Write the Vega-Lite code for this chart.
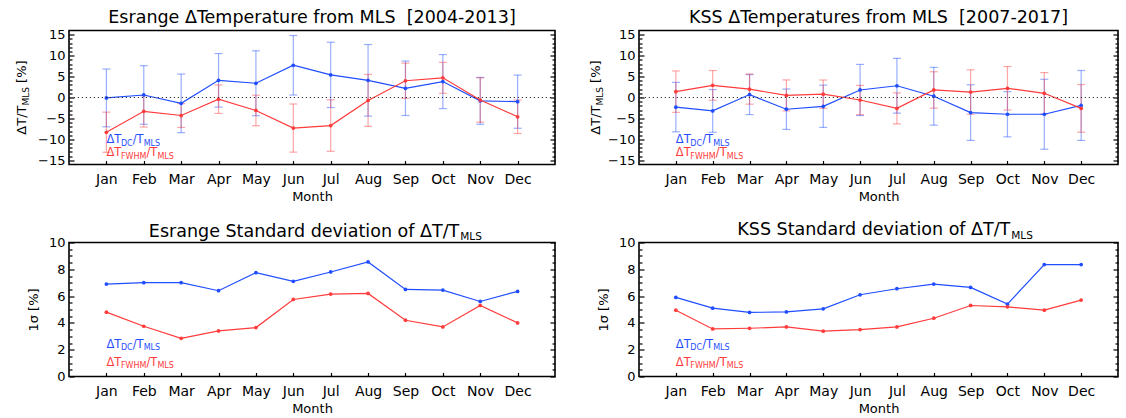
{
  "$schema": "https://vega.github.io/schema/vega-lite/v6.json",
  "autosize": {"type": "pad"},
  "padding": {"left": 15, "top": 7.5, "right": 0, "bottom": 0},
  "config": {
    "font": "DejaVu Sans",
    "view": {"stroke": "black", "strokeWidth": 1.6},
    "axis": {"grid": false, "labelColor": "black", "titleColor": "black", "tickColor": "black", "labelFont": "DejaVu Sans", "titleFont": "DejaVu Sans", "titleFontWeight": "normal", "tickWidth": 1.2},
    "title": {"fontSize": 17.5, "fontWeight": "normal", "font": "DejaVu Sans", "color": "black", "anchor": "middle", "baseline": "alphabetic", "offset": 2.5},
    "text": {"font": "DejaVu Sans"}
  },
  "datasets": {
    "stats": [
      {"station": "Esrange", "series": "DC", "month": "Jan", "m": 1, "mean": -0.1, "sd": 6.9},
      {"station": "Esrange", "series": "DC", "month": "Feb", "m": 2, "mean": 0.6, "sd": 7.0},
      {"station": "Esrange", "series": "DC", "month": "Mar", "m": 3, "mean": -1.4, "sd": 7.0},
      {"station": "Esrange", "series": "DC", "month": "Apr", "m": 4, "mean": 4.1, "sd": 6.4},
      {"station": "Esrange", "series": "DC", "month": "May", "m": 5, "mean": 3.4, "sd": 7.75},
      {"station": "Esrange", "series": "DC", "month": "Jun", "m": 6, "mean": 7.7, "sd": 7.1},
      {"station": "Esrange", "series": "DC", "month": "Jul", "m": 7, "mean": 5.4, "sd": 7.8},
      {"station": "Esrange", "series": "DC", "month": "Aug", "m": 8, "mean": 4.1, "sd": 8.55},
      {"station": "Esrange", "series": "DC", "month": "Sep", "m": 9, "mean": 2.2, "sd": 6.5},
      {"station": "Esrange", "series": "DC", "month": "Oct", "m": 10, "mean": 3.8, "sd": 6.45},
      {"station": "Esrange", "series": "DC", "month": "Nov", "m": 11, "mean": -0.8, "sd": 5.6},
      {"station": "Esrange", "series": "DC", "month": "Dec", "m": 12, "mean": -1.0, "sd": 6.35},
      {"station": "Esrange", "series": "FWHM", "month": "Jan", "m": 1, "mean": -8.3, "sd": 4.8},
      {"station": "Esrange", "series": "FWHM", "month": "Feb", "m": 2, "mean": -3.3, "sd": 3.75},
      {"station": "Esrange", "series": "FWHM", "month": "Mar", "m": 3, "mean": -4.3, "sd": 2.85},
      {"station": "Esrange", "series": "FWHM", "month": "Apr", "m": 4, "mean": -0.4, "sd": 3.4},
      {"station": "Esrange", "series": "FWHM", "month": "May", "m": 5, "mean": -3.1, "sd": 3.65},
      {"station": "Esrange", "series": "FWHM", "month": "Jun", "m": 6, "mean": -7.3, "sd": 5.75},
      {"station": "Esrange", "series": "FWHM", "month": "Jul", "m": 7, "mean": -6.7, "sd": 6.15},
      {"station": "Esrange", "series": "FWHM", "month": "Aug", "m": 8, "mean": -0.7, "sd": 6.2},
      {"station": "Esrange", "series": "FWHM", "month": "Sep", "m": 9, "mean": 4.0, "sd": 4.2},
      {"station": "Esrange", "series": "FWHM", "month": "Oct", "m": 10, "mean": 4.7, "sd": 3.7},
      {"station": "Esrange", "series": "FWHM", "month": "Nov", "m": 11, "mean": -0.6, "sd": 5.3},
      {"station": "Esrange", "series": "FWHM", "month": "Dec", "m": 12, "mean": -4.6, "sd": 4.0},
      {"station": "KSS", "series": "DC", "month": "Jan", "m": 1, "mean": -2.3, "sd": 5.9},
      {"station": "KSS", "series": "DC", "month": "Feb", "m": 2, "mean": -3.2, "sd": 5.1},
      {"station": "KSS", "series": "DC", "month": "Mar", "m": 3, "mean": 0.7, "sd": 4.78},
      {"station": "KSS", "series": "DC", "month": "Apr", "m": 4, "mean": -2.8, "sd": 4.82},
      {"station": "KSS", "series": "DC", "month": "May", "m": 5, "mean": -2.1, "sd": 5.05},
      {"station": "KSS", "series": "DC", "month": "Jun", "m": 6, "mean": 1.8, "sd": 6.1},
      {"station": "KSS", "series": "DC", "month": "Jul", "m": 7, "mean": 2.8, "sd": 6.55},
      {"station": "KSS", "series": "DC", "month": "Aug", "m": 8, "mean": 0.3, "sd": 6.9},
      {"station": "KSS", "series": "DC", "month": "Sep", "m": 9, "mean": -3.6, "sd": 6.65},
      {"station": "KSS", "series": "DC", "month": "Oct", "m": 10, "mean": -4.0, "sd": 5.4},
      {"station": "KSS", "series": "DC", "month": "Nov", "m": 11, "mean": -4.0, "sd": 8.35},
      {"station": "KSS", "series": "DC", "month": "Dec", "m": 12, "mean": -1.9, "sd": 8.35},
      {"station": "KSS", "series": "FWHM", "month": "Jan", "m": 1, "mean": 1.4, "sd": 4.95},
      {"station": "KSS", "series": "FWHM", "month": "Feb", "m": 2, "mean": 2.9, "sd": 3.55},
      {"station": "KSS", "series": "FWHM", "month": "Mar", "m": 3, "mean": 2.0, "sd": 3.6},
      {"station": "KSS", "series": "FWHM", "month": "Apr", "m": 4, "mean": 0.5, "sd": 3.7},
      {"station": "KSS", "series": "FWHM", "month": "May", "m": 5, "mean": 0.8, "sd": 3.38},
      {"station": "KSS", "series": "FWHM", "month": "Jun", "m": 6, "mean": -0.6, "sd": 3.5},
      {"station": "KSS", "series": "FWHM", "month": "Jul", "m": 7, "mean": -2.6, "sd": 3.7},
      {"station": "KSS", "series": "FWHM", "month": "Aug", "m": 8, "mean": 1.8, "sd": 4.35},
      {"station": "KSS", "series": "FWHM", "month": "Sep", "m": 9, "mean": 1.3, "sd": 5.3},
      {"station": "KSS", "series": "FWHM", "month": "Oct", "m": 10, "mean": 2.2, "sd": 5.2},
      {"station": "KSS", "series": "FWHM", "month": "Nov", "m": 11, "mean": 1.0, "sd": 4.95},
      {"station": "KSS", "series": "FWHM", "month": "Dec", "m": 12, "mean": -2.6, "sd": 5.7}
    ]
  },
  "columns": 2,
  "spacing": {"column": 84, "row": 78},
  "bounds": "flush",
  "align": "each",
  "concat": [
    {
      "width": 486, "height": 134,
      "title": {"text": "Esrange ΔTemperature from MLS \u00a0[2004-2013]"},
      "data": {"name": "stats"},
      "transform": [{"filter": "datum.station === 'Esrange'"}],
      "resolve": {"axis": {"y": "independent"}},
      "layer": [
        {"mark": {"type": "errorbar", "ticks": {"opacity": 0.45, "size": 8}, "rule": {"opacity": 0.45}, "thickness": 1.2},
         "encoding": {
           "x": {"field": "m", "type": "quantitative", "scale": {"domain": [0, 13], "nice": false, "zero": false}, "axis": {"values": [1,2,3,4,5,6,7,8,9,10,11,12], "labelExpr": "['Jan','Feb','Mar','Apr','May','Jun','Jul','Aug','Sep','Oct','Nov','Dec'][datum.value-1]", "title": "Month", "tickSize": -4, "domain": false, "labelPadding": 12, "labelFontSize": 14, "titleFontSize": 13, "titlePadding": 4, "labelAngle": 0, "labelFlush": false}},
           "y": {"field": "mean", "type": "quantitative", "scale": {"domain": [-16, 16], "nice": false, "zero": false}, "axis": {"orient": "left", "values": [-15,-10,-5,0,5,10,15], "ticks": false, "domain": false, "labelPadding": 4, "labelFontSize": 13, "title": null}},
           "yError": {"field": "sd"},
           "color": {"field": "series", "type": "nominal", "scale": {"domain": ["DC", "FWHM"], "range": ["#1f4dff", "#ff3b3b"]}, "legend": null}
         }},
        {"mark": {"type": "line", "strokeWidth": 1.2},
         "encoding": {
           "x": {"field": "m", "type": "quantitative", "scale": {"domain": [0, 13], "nice": false, "zero": false}, "axis": {"values": [1,2,3,4,5,6,7,8,9,10,11,12], "labelExpr": "['Jan','Feb','Mar','Apr','May','Jun','Jul','Aug','Sep','Oct','Nov','Dec'][datum.value-1]", "title": "Month", "tickSize": -4, "domain": false, "labelPadding": 12, "labelFontSize": 14, "titleFontSize": 13, "titlePadding": 4, "labelAngle": 0, "labelFlush": false}},
           "y": {"field": "mean", "type": "quantitative", "scale": {"domain": [-16, 16], "nice": false, "zero": false}, "axis": {"orient": "left", "values": [-15,-10,-5,0,5,10,15], "labels": false, "domain": false, "tickSize": -5, "title": null}},
           "color": {"field": "series", "type": "nominal", "scale": {"domain": ["DC", "FWHM"], "range": ["#1f4dff", "#ff3b3b"]}, "legend": null}
         }},
        {"mark": {"type": "point", "filled": true, "size": 14, "opacity": 1},
         "encoding": {
           "x": {"field": "m", "type": "quantitative", "scale": {"domain": [0, 13], "nice": false, "zero": false}, "axis": {"values": [1,2,3,4,5,6,7,8,9,10,11,12], "labelExpr": "['Jan','Feb','Mar','Apr','May','Jun','Jul','Aug','Sep','Oct','Nov','Dec'][datum.value-1]", "title": "Month", "tickSize": -4, "domain": false, "labelPadding": 12, "labelFontSize": 14, "titleFontSize": 13, "titlePadding": 4, "labelAngle": 0, "labelFlush": false}},
           "y": {"field": "mean", "type": "quantitative", "scale": {"domain": [-16, 16], "nice": false, "zero": false}, "axis": {"orient": "left", "values": [-14,-13,-12,-11,-9,-8,-7,-6,-4,-3,-2,-1,1,2,3,4,6,7,8,9,11,12,13,14], "labels": false, "domain": false, "tickSize": -3, "title": null}},
           "color": {"field": "series", "type": "nominal", "scale": {"domain": ["DC", "FWHM"], "range": ["#1f4dff", "#ff3b3b"]}, "legend": null}
         }},
        {"data": {"values": [{"z": 0}]},
         "mark": {"type": "rule", "strokeDash": [1.2, 2.8], "color": "#333333", "strokeWidth": 1},
         "encoding": {
           "y": {"field": "z", "type": "quantitative", "scale": {"domain": [-16, 16], "nice": false, "zero": false}, "axis": {"orient": "right", "values": [-15,-10,-5,0,5,10,15], "labels": false, "domain": false, "tickSize": -5, "title": null}}
         }},
        {"data": {"values": [{}]},
         "mark": {"type": "text", "text": "ΔT/T", "fontSize": 13, "angle": 270, "align": "left", "baseline": "alphabetic", "dx": -37.2, "dy": -80.3, "color": "black"},
         "encoding": {
           "x": {"datum": 1, "type": "quantitative", "scale": {"domain": [0, 13], "nice": false, "zero": false}, "axis": {"values": [1,2,3,4,5,6,7,8,9,10,11,12], "labelExpr": "['Jan','Feb','Mar','Apr','May','Jun','Jul','Aug','Sep','Oct','Nov','Dec'][datum.value-1]", "title": "Month", "tickSize": -4, "domain": false, "labelPadding": 12, "labelFontSize": 14, "titleFontSize": 13, "titlePadding": 4, "labelAngle": 0, "labelFlush": false}},
           "y": {"datum": 0, "type": "quantitative", "scale": {"domain": [-16, 16], "nice": false, "zero": false}, "axis": {"orient": "right", "values": [-14,-13,-12,-11,-9,-8,-7,-6,-4,-3,-2,-1,1,2,3,4,6,7,8,9,11,12,13,14], "labels": false, "domain": false, "tickSize": -3, "title": null}}
         }},
        {"data": {"values": [{}]},
         "mark": {"type": "text", "text": "MLS", "fontSize": 9, "angle": 270, "align": "left", "baseline": "alphabetic", "dx": -8.0, "dy": -77.3, "color": "black"},
         "encoding": {"x": {"datum": 1, "type": "quantitative"}, "y": {"datum": 0, "type": "quantitative", "axis": null}}},
        {"data": {"values": [{}]},
         "mark": {"type": "text", "text": "[%]", "fontSize": 13, "angle": 270, "align": "left", "baseline": "alphabetic", "dx": 14.6, "dy": -80.3, "color": "black"},
         "encoding": {"x": {"datum": 1, "type": "quantitative"}, "y": {"datum": 0, "type": "quantitative", "axis": null}}},
        {"data": {"values": [{}]}, "mark": {"type": "text", "text": "ΔT", "fontSize": 11.5, "align": "left", "baseline": "alphabetic", "color": "#1f4dff"},
         "encoding": {"x": {"datum": 1, "type": "quantitative"}, "y": {"datum": -10.9, "type": "quantitative", "axis": null}}},
        {"data": {"values": [{}]}, "mark": {"type": "text", "text": "DC", "fontSize": 8, "align": "left", "baseline": "alphabetic", "dx": 14.5, "dy": 2.5, "color": "#1f4dff"},
         "encoding": {"x": {"datum": 1, "type": "quantitative"}, "y": {"datum": -10.9, "type": "quantitative", "axis": null}}},
        {"data": {"values": [{}]}, "mark": {"type": "text", "text": "/T", "fontSize": 11.5, "align": "left", "baseline": "alphabetic", "dx": 26.3, "color": "#1f4dff"},
         "encoding": {"x": {"datum": 1, "type": "quantitative"}, "y": {"datum": -10.9, "type": "quantitative", "axis": null}}},
        {"data": {"values": [{}]}, "mark": {"type": "text", "text": "MLS", "fontSize": 8, "align": "left", "baseline": "alphabetic", "dx": 37.3, "dy": 2.5, "color": "#1f4dff"},
         "encoding": {"x": {"datum": 1, "type": "quantitative"}, "y": {"datum": -10.9, "type": "quantitative", "axis": null}}},
        {"data": {"values": [{}]}, "mark": {"type": "text", "text": "ΔT", "fontSize": 11.5, "align": "left", "baseline": "alphabetic", "color": "#ff3b3b"},
         "encoding": {"x": {"datum": 1, "type": "quantitative"}, "y": {"datum": -14.0, "type": "quantitative", "axis": null}}},
        {"data": {"values": [{}]}, "mark": {"type": "text", "text": "FWHM", "fontSize": 8, "align": "left", "baseline": "alphabetic", "dx": 14.5, "dy": 2.5, "color": "#ff3b3b"},
         "encoding": {"x": {"datum": 1, "type": "quantitative"}, "y": {"datum": -14.0, "type": "quantitative", "axis": null}}},
        {"data": {"values": [{}]}, "mark": {"type": "text", "text": "/T", "fontSize": 11.5, "align": "left", "baseline": "alphabetic", "dx": 40.0, "color": "#ff3b3b"},
         "encoding": {"x": {"datum": 1, "type": "quantitative"}, "y": {"datum": -14.0, "type": "quantitative", "axis": null}}},
        {"data": {"values": [{}]}, "mark": {"type": "text", "text": "MLS", "fontSize": 8, "align": "left", "baseline": "alphabetic", "dx": 51.0, "dy": 2.5, "color": "#ff3b3b"},
         "encoding": {"x": {"datum": 1, "type": "quantitative"}, "y": {"datum": -14.0, "type": "quantitative", "axis": null}}}
      ]
    },
    {
      "width": 479, "height": 134,
      "title": {"text": "KSS ΔTemperatures from MLS \u00a0[2007-2017]"},
      "data": {"name": "stats"},
      "transform": [{"filter": "datum.station === 'KSS'"}],
      "resolve": {"axis": {"y": "independent"}},
      "layer": [
        {"mark": {"type": "errorbar", "ticks": {"opacity": 0.45, "size": 8}, "rule": {"opacity": 0.45}, "thickness": 1.2},
         "encoding": {
           "x": {"field": "m", "type": "quantitative", "scale": {"domain": [0, 13], "nice": false, "zero": false}, "axis": {"values": [1,2,3,4,5,6,7,8,9,10,11,12], "labelExpr": "['Jan','Feb','Mar','Apr','May','Jun','Jul','Aug','Sep','Oct','Nov','Dec'][datum.value-1]", "title": "Month", "tickSize": -4, "domain": false, "labelPadding": 12, "labelFontSize": 14, "titleFontSize": 13, "titlePadding": 4, "labelAngle": 0, "labelFlush": false}},
           "y": {"field": "mean", "type": "quantitative", "scale": {"domain": [-16, 16], "nice": false, "zero": false}, "axis": {"orient": "left", "values": [-15,-10,-5,0,5,10,15], "ticks": false, "domain": false, "labelPadding": 4, "labelFontSize": 13, "title": null}},
           "yError": {"field": "sd"},
           "color": {"field": "series", "type": "nominal", "scale": {"domain": ["DC", "FWHM"], "range": ["#1f4dff", "#ff3b3b"]}, "legend": null}
         }},
        {"mark": {"type": "line", "strokeWidth": 1.2},
         "encoding": {
           "x": {"field": "m", "type": "quantitative", "scale": {"domain": [0, 13], "nice": false, "zero": false}, "axis": {"values": [1,2,3,4,5,6,7,8,9,10,11,12], "labelExpr": "['Jan','Feb','Mar','Apr','May','Jun','Jul','Aug','Sep','Oct','Nov','Dec'][datum.value-1]", "title": "Month", "tickSize": -4, "domain": false, "labelPadding": 12, "labelFontSize": 14, "titleFontSize": 13, "titlePadding": 4, "labelAngle": 0, "labelFlush": false}},
           "y": {"field": "mean", "type": "quantitative", "scale": {"domain": [-16, 16], "nice": false, "zero": false}, "axis": {"orient": "left", "values": [-15,-10,-5,0,5,10,15], "labels": false, "domain": false, "tickSize": -5, "title": null}},
           "color": {"field": "series", "type": "nominal", "scale": {"domain": ["DC", "FWHM"], "range": ["#1f4dff", "#ff3b3b"]}, "legend": null}
         }},
        {"mark": {"type": "point", "filled": true, "size": 14, "opacity": 1},
         "encoding": {
           "x": {"field": "m", "type": "quantitative", "scale": {"domain": [0, 13], "nice": false, "zero": false}, "axis": {"values": [1,2,3,4,5,6,7,8,9,10,11,12], "labelExpr": "['Jan','Feb','Mar','Apr','May','Jun','Jul','Aug','Sep','Oct','Nov','Dec'][datum.value-1]", "title": "Month", "tickSize": -4, "domain": false, "labelPadding": 12, "labelFontSize": 14, "titleFontSize": 13, "titlePadding": 4, "labelAngle": 0, "labelFlush": false}},
           "y": {"field": "mean", "type": "quantitative", "scale": {"domain": [-16, 16], "nice": false, "zero": false}, "axis": {"orient": "left", "values": [-14,-13,-12,-11,-9,-8,-7,-6,-4,-3,-2,-1,1,2,3,4,6,7,8,9,11,12,13,14], "labels": false, "domain": false, "tickSize": -3, "title": null}},
           "color": {"field": "series", "type": "nominal", "scale": {"domain": ["DC", "FWHM"], "range": ["#1f4dff", "#ff3b3b"]}, "legend": null}
         }},
        {"data": {"values": [{"z": 0}]},
         "mark": {"type": "rule", "strokeDash": [1.2, 2.8], "color": "#333333", "strokeWidth": 1},
         "encoding": {
           "y": {"field": "z", "type": "quantitative", "scale": {"domain": [-16, 16], "nice": false, "zero": false}, "axis": {"orient": "right", "values": [-15,-10,-5,0,5,10,15], "labels": false, "domain": false, "tickSize": -5, "title": null}}
         }},
        {"data": {"values": [{}]},
         "mark": {"type": "text", "text": "ΔT/T", "fontSize": 13, "angle": 270, "align": "left", "baseline": "alphabetic", "dx": -37.2, "dy": -76.2, "color": "black"},
         "encoding": {
           "x": {"datum": 1, "type": "quantitative", "scale": {"domain": [0, 13], "nice": false, "zero": false}, "axis": {"values": [1,2,3,4,5,6,7,8,9,10,11,12], "labelExpr": "['Jan','Feb','Mar','Apr','May','Jun','Jul','Aug','Sep','Oct','Nov','Dec'][datum.value-1]", "title": "Month", "tickSize": -4, "domain": false, "labelPadding": 12, "labelFontSize": 14, "titleFontSize": 13, "titlePadding": 4, "labelAngle": 0, "labelFlush": false}},
           "y": {"datum": 0, "type": "quantitative", "scale": {"domain": [-16, 16], "nice": false, "zero": false}, "axis": {"orient": "right", "values": [-14,-13,-12,-11,-9,-8,-7,-6,-4,-3,-2,-1,1,2,3,4,6,7,8,9,11,12,13,14], "labels": false, "domain": false, "tickSize": -3, "title": null}}
         }},
        {"data": {"values": [{}]},
         "mark": {"type": "text", "text": "MLS", "fontSize": 9, "angle": 270, "align": "left", "baseline": "alphabetic", "dx": -8.0, "dy": -73.2, "color": "black"},
         "encoding": {"x": {"datum": 1, "type": "quantitative"}, "y": {"datum": 0, "type": "quantitative", "axis": null}}},
        {"data": {"values": [{}]},
         "mark": {"type": "text", "text": "[%]", "fontSize": 13, "angle": 270, "align": "left", "baseline": "alphabetic", "dx": 14.6, "dy": -76.2, "color": "black"},
         "encoding": {"x": {"datum": 1, "type": "quantitative"}, "y": {"datum": 0, "type": "quantitative", "axis": null}}},
        {"data": {"values": [{}]}, "mark": {"type": "text", "text": "ΔT", "fontSize": 11.5, "align": "left", "baseline": "alphabetic", "color": "#1f4dff"},
         "encoding": {"x": {"datum": 1, "type": "quantitative"}, "y": {"datum": -10.9, "type": "quantitative", "axis": null}}},
        {"data": {"values": [{}]}, "mark": {"type": "text", "text": "DC", "fontSize": 8, "align": "left", "baseline": "alphabetic", "dx": 14.5, "dy": 2.5, "color": "#1f4dff"},
         "encoding": {"x": {"datum": 1, "type": "quantitative"}, "y": {"datum": -10.9, "type": "quantitative", "axis": null}}},
        {"data": {"values": [{}]}, "mark": {"type": "text", "text": "/T", "fontSize": 11.5, "align": "left", "baseline": "alphabetic", "dx": 26.3, "color": "#1f4dff"},
         "encoding": {"x": {"datum": 1, "type": "quantitative"}, "y": {"datum": -10.9, "type": "quantitative", "axis": null}}},
        {"data": {"values": [{}]}, "mark": {"type": "text", "text": "MLS", "fontSize": 8, "align": "left", "baseline": "alphabetic", "dx": 37.3, "dy": 2.5, "color": "#1f4dff"},
         "encoding": {"x": {"datum": 1, "type": "quantitative"}, "y": {"datum": -10.9, "type": "quantitative", "axis": null}}},
        {"data": {"values": [{}]}, "mark": {"type": "text", "text": "ΔT", "fontSize": 11.5, "align": "left", "baseline": "alphabetic", "color": "#ff3b3b"},
         "encoding": {"x": {"datum": 1, "type": "quantitative"}, "y": {"datum": -14.0, "type": "quantitative", "axis": null}}},
        {"data": {"values": [{}]}, "mark": {"type": "text", "text": "FWHM", "fontSize": 8, "align": "left", "baseline": "alphabetic", "dx": 14.5, "dy": 2.5, "color": "#ff3b3b"},
         "encoding": {"x": {"datum": 1, "type": "quantitative"}, "y": {"datum": -14.0, "type": "quantitative", "axis": null}}},
        {"data": {"values": [{}]}, "mark": {"type": "text", "text": "/T", "fontSize": 11.5, "align": "left", "baseline": "alphabetic", "dx": 40.0, "color": "#ff3b3b"},
         "encoding": {"x": {"datum": 1, "type": "quantitative"}, "y": {"datum": -14.0, "type": "quantitative", "axis": null}}},
        {"data": {"values": [{}]}, "mark": {"type": "text", "text": "MLS", "fontSize": 8, "align": "left", "baseline": "alphabetic", "dx": 51.0, "dy": 2.5, "color": "#ff3b3b"},
         "encoding": {"x": {"datum": 1, "type": "quantitative"}, "y": {"datum": -14.0, "type": "quantitative", "axis": null}}}
      ]
    },
    {
      "width": 486, "height": 134,
      "data": {"name": "stats"},
      "transform": [{"filter": "datum.station === 'Esrange'"}],
      "resolve": {"axis": {"y": "independent"}},
      "layer": [
        {"mark": {"type": "line", "strokeWidth": 1.2},
         "encoding": {
           "x": {"field": "m", "type": "quantitative", "scale": {"domain": [0, 13], "nice": false, "zero": false}, "axis": {"values": [1,2,3,4,5,6,7,8,9,10,11,12], "labelExpr": "['Jan','Feb','Mar','Apr','May','Jun','Jul','Aug','Sep','Oct','Nov','Dec'][datum.value-1]", "title": "Month", "tickSize": -4, "domain": false, "labelPadding": 12, "labelFontSize": 14, "titleFontSize": 13, "titlePadding": 4, "labelAngle": 0, "labelFlush": false}},
           "y": {"field": "sd", "type": "quantitative", "scale": {"domain": [0, 10], "nice": false, "zero": false}, "axis": {"orient": "left", "values": [0,2,4,6,8,10], "ticks": false, "domain": false, "labelPadding": 4, "labelFontSize": 13, "title": "1σ [%]", "titleFontSize": 13, "titlePadding": 8}},
           "color": {"field": "series", "type": "nominal", "scale": {"domain": ["DC", "FWHM"], "range": ["#1f4dff", "#ff3b3b"]}, "legend": null}
         }},
        {"mark": {"type": "point", "filled": true, "size": 14, "opacity": 1},
         "encoding": {
           "x": {"field": "m", "type": "quantitative", "scale": {"domain": [0, 13], "nice": false, "zero": false}, "axis": {"values": [1,2,3,4,5,6,7,8,9,10,11,12], "labelExpr": "['Jan','Feb','Mar','Apr','May','Jun','Jul','Aug','Sep','Oct','Nov','Dec'][datum.value-1]", "title": "Month", "tickSize": -4, "domain": false, "labelPadding": 12, "labelFontSize": 14, "titleFontSize": 13, "titlePadding": 4, "labelAngle": 0, "labelFlush": false}},
           "y": {"field": "sd", "type": "quantitative", "scale": {"domain": [0, 10], "nice": false, "zero": false}, "axis": {"orient": "left", "values": [0,2,4,6,8,10], "labels": false, "domain": false, "tickSize": -5, "title": null}},
           "color": {"field": "series", "type": "nominal", "scale": {"domain": ["DC", "FWHM"], "range": ["#1f4dff", "#ff3b3b"]}, "legend": null}
         }},
        {"data": {"values": [{}]},
         "mark": {"type": "text", "text": "Esrange Standard deviation of ΔT/T", "fontSize": 17.5, "align": "right", "baseline": "alphabetic", "dx": -21, "dy": -6, "color": "black"},
         "encoding": {
           "x": {"datum": 11, "type": "quantitative", "scale": {"domain": [0, 13], "nice": false, "zero": false}, "axis": {"values": [1,2,3,4,5,6,7,8,9,10,11,12], "labelExpr": "['Jan','Feb','Mar','Apr','May','Jun','Jul','Aug','Sep','Oct','Nov','Dec'][datum.value-1]", "title": "Month", "tickSize": -4, "domain": false, "labelPadding": 12, "labelFontSize": 14, "titleFontSize": 13, "titlePadding": 4, "labelAngle": 0, "labelFlush": false}},
           "y": {"datum": 10, "type": "quantitative", "scale": {"domain": [0, 10], "nice": false, "zero": false}, "axis": {"orient": "left", "values": [0.5,1,1.5,2.5,3,3.5,4.5,5,5.5,6.5,7,7.5,8.5,9,9.5], "labels": false, "domain": false, "tickSize": -3, "title": null}}
         }},
        {"data": {"values": [{}]},
         "mark": {"type": "text", "text": "MLS", "fontSize": 10.5, "align": "left", "baseline": "alphabetic", "dx": -20, "dy": -3, "color": "black"},
         "encoding": {
           "x": {"datum": 11, "type": "quantitative"},
           "y": {"datum": 10, "type": "quantitative", "axis": {"orient": "right", "values": [0,2,4,6,8,10], "labels": false, "domain": false, "tickSize": -5, "title": null}}
         }},
        {"data": {"values": [{}]}, "mark": {"type": "text", "text": "ΔT", "fontSize": 11.5, "align": "left", "baseline": "alphabetic", "color": "#1f4dff"},
         "encoding": {"x": {"datum": 1, "type": "quantitative"}, "y": {"datum": 2.15, "type": "quantitative", "axis": {"orient": "right", "values": [0.5,1,1.5,2.5,3,3.5,4.5,5,5.5,6.5,7,7.5,8.5,9,9.5], "labels": false, "domain": false, "tickSize": -3, "title": null}}}},
        {"data": {"values": [{}]}, "mark": {"type": "text", "text": "DC", "fontSize": 8, "align": "left", "baseline": "alphabetic", "dx": 14.5, "dy": 2.5, "color": "#1f4dff"},
         "encoding": {"x": {"datum": 1, "type": "quantitative"}, "y": {"datum": 2.15, "type": "quantitative", "axis": null}}},
        {"data": {"values": [{}]}, "mark": {"type": "text", "text": "/T", "fontSize": 11.5, "align": "left", "baseline": "alphabetic", "dx": 26.3, "color": "#1f4dff"},
         "encoding": {"x": {"datum": 1, "type": "quantitative"}, "y": {"datum": 2.15, "type": "quantitative", "axis": null}}},
        {"data": {"values": [{}]}, "mark": {"type": "text", "text": "MLS", "fontSize": 8, "align": "left", "baseline": "alphabetic", "dx": 37.3, "dy": 2.5, "color": "#1f4dff"},
         "encoding": {"x": {"datum": 1, "type": "quantitative"}, "y": {"datum": 2.15, "type": "quantitative", "axis": null}}},
        {"data": {"values": [{}]}, "mark": {"type": "text", "text": "ΔT", "fontSize": 11.5, "align": "left", "baseline": "alphabetic", "color": "#ff3b3b"},
         "encoding": {"x": {"datum": 1, "type": "quantitative"}, "y": {"datum": 0.8, "type": "quantitative", "axis": null}}},
        {"data": {"values": [{}]}, "mark": {"type": "text", "text": "FWHM", "fontSize": 8, "align": "left", "baseline": "alphabetic", "dx": 14.5, "dy": 2.5, "color": "#ff3b3b"},
         "encoding": {"x": {"datum": 1, "type": "quantitative"}, "y": {"datum": 0.8, "type": "quantitative", "axis": null}}},
        {"data": {"values": [{}]}, "mark": {"type": "text", "text": "/T", "fontSize": 11.5, "align": "left", "baseline": "alphabetic", "dx": 40.0, "color": "#ff3b3b"},
         "encoding": {"x": {"datum": 1, "type": "quantitative"}, "y": {"datum": 0.8, "type": "quantitative", "axis": null}}},
        {"data": {"values": [{}]}, "mark": {"type": "text", "text": "MLS", "fontSize": 8, "align": "left", "baseline": "alphabetic", "dx": 51.0, "dy": 2.5, "color": "#ff3b3b"},
         "encoding": {"x": {"datum": 1, "type": "quantitative"}, "y": {"datum": 0.8, "type": "quantitative", "axis": null}}}
      ]
    },
    {
      "width": 479, "height": 134,
      "data": {"name": "stats"},
      "transform": [{"filter": "datum.station === 'KSS'"}],
      "resolve": {"axis": {"y": "independent"}},
      "layer": [
        {"mark": {"type": "line", "strokeWidth": 1.2},
         "encoding": {
           "x": {"field": "m", "type": "quantitative", "scale": {"domain": [0, 13], "nice": false, "zero": false}, "axis": {"values": [1,2,3,4,5,6,7,8,9,10,11,12], "labelExpr": "['Jan','Feb','Mar','Apr','May','Jun','Jul','Aug','Sep','Oct','Nov','Dec'][datum.value-1]", "title": "Month", "tickSize": -4, "domain": false, "labelPadding": 12, "labelFontSize": 14, "titleFontSize": 13, "titlePadding": 4, "labelAngle": 0, "labelFlush": false}},
           "y": {"field": "sd", "type": "quantitative", "scale": {"domain": [0, 10], "nice": false, "zero": false}, "axis": {"orient": "left", "values": [0,2,4,6,8,10], "ticks": false, "domain": false, "labelPadding": 4, "labelFontSize": 13, "title": "1σ [%]", "titleFontSize": 13, "titlePadding": 8}},
           "color": {"field": "series", "type": "nominal", "scale": {"domain": ["DC", "FWHM"], "range": ["#1f4dff", "#ff3b3b"]}, "legend": null}
         }},
        {"mark": {"type": "point", "filled": true, "size": 14, "opacity": 1},
         "encoding": {
           "x": {"field": "m", "type": "quantitative", "scale": {"domain": [0, 13], "nice": false, "zero": false}, "axis": {"values": [1,2,3,4,5,6,7,8,9,10,11,12], "labelExpr": "['Jan','Feb','Mar','Apr','May','Jun','Jul','Aug','Sep','Oct','Nov','Dec'][datum.value-1]", "title": "Month", "tickSize": -4, "domain": false, "labelPadding": 12, "labelFontSize": 14, "titleFontSize": 13, "titlePadding": 4, "labelAngle": 0, "labelFlush": false}},
           "y": {"field": "sd", "type": "quantitative", "scale": {"domain": [0, 10], "nice": false, "zero": false}, "axis": {"orient": "left", "values": [0,2,4,6,8,10], "labels": false, "domain": false, "tickSize": -5, "title": null}},
           "color": {"field": "series", "type": "nominal", "scale": {"domain": ["DC", "FWHM"], "range": ["#1f4dff", "#ff3b3b"]}, "legend": null}
         }},
        {"data": {"values": [{}]},
         "mark": {"type": "text", "text": "KSS Standard deviation of ΔT/T", "fontSize": 17.5, "align": "right", "baseline": "alphabetic", "dx": -34, "dy": -7.5, "color": "black"},
         "encoding": {
           "x": {"datum": 11, "type": "quantitative", "scale": {"domain": [0, 13], "nice": false, "zero": false}, "axis": {"values": [1,2,3,4,5,6,7,8,9,10,11,12], "labelExpr": "['Jan','Feb','Mar','Apr','May','Jun','Jul','Aug','Sep','Oct','Nov','Dec'][datum.value-1]", "title": "Month", "tickSize": -4, "domain": false, "labelPadding": 12, "labelFontSize": 14, "titleFontSize": 13, "titlePadding": 4, "labelAngle": 0, "labelFlush": false}},
           "y": {"datum": 10, "type": "quantitative", "scale": {"domain": [0, 10], "nice": false, "zero": false}, "axis": {"orient": "left", "values": [0.5,1,1.5,2.5,3,3.5,4.5,5,5.5,6.5,7,7.5,8.5,9,9.5], "labels": false, "domain": false, "tickSize": -3, "title": null}}
         }},
        {"data": {"values": [{}]},
         "mark": {"type": "text", "text": "MLS", "fontSize": 10.5, "align": "left", "baseline": "alphabetic", "dx": -33, "dy": -4, "color": "black"},
         "encoding": {
           "x": {"datum": 11, "type": "quantitative"},
           "y": {"datum": 10, "type": "quantitative", "axis": {"orient": "right", "values": [0,2,4,6,8,10], "labels": false, "domain": false, "tickSize": -5, "title": null}}
         }},
        {"data": {"values": [{}]}, "mark": {"type": "text", "text": "ΔT", "fontSize": 11.5, "align": "left", "baseline": "alphabetic", "color": "#1f4dff"},
         "encoding": {"x": {"datum": 1, "type": "quantitative"}, "y": {"datum": 2.15, "type": "quantitative", "axis": {"orient": "right", "values": [0.5,1,1.5,2.5,3,3.5,4.5,5,5.5,6.5,7,7.5,8.5,9,9.5], "labels": false, "domain": false, "tickSize": -3, "title": null}}}},
        {"data": {"values": [{}]}, "mark": {"type": "text", "text": "DC", "fontSize": 8, "align": "left", "baseline": "alphabetic", "dx": 14.5, "dy": 2.5, "color": "#1f4dff"},
         "encoding": {"x": {"datum": 1, "type": "quantitative"}, "y": {"datum": 2.15, "type": "quantitative", "axis": null}}},
        {"data": {"values": [{}]}, "mark": {"type": "text", "text": "/T", "fontSize": 11.5, "align": "left", "baseline": "alphabetic", "dx": 26.3, "color": "#1f4dff"},
         "encoding": {"x": {"datum": 1, "type": "quantitative"}, "y": {"datum": 2.15, "type": "quantitative", "axis": null}}},
        {"data": {"values": [{}]}, "mark": {"type": "text", "text": "MLS", "fontSize": 8, "align": "left", "baseline": "alphabetic", "dx": 37.3, "dy": 2.5, "color": "#1f4dff"},
         "encoding": {"x": {"datum": 1, "type": "quantitative"}, "y": {"datum": 2.15, "type": "quantitative", "axis": null}}},
        {"data": {"values": [{}]}, "mark": {"type": "text", "text": "ΔT", "fontSize": 11.5, "align": "left", "baseline": "alphabetic", "color": "#ff3b3b"},
         "encoding": {"x": {"datum": 1, "type": "quantitative"}, "y": {"datum": 0.8, "type": "quantitative", "axis": null}}},
        {"data": {"values": [{}]}, "mark": {"type": "text", "text": "FWHM", "fontSize": 8, "align": "left", "baseline": "alphabetic", "dx": 14.5, "dy": 2.5, "color": "#ff3b3b"},
         "encoding": {"x": {"datum": 1, "type": "quantitative"}, "y": {"datum": 0.8, "type": "quantitative", "axis": null}}},
        {"data": {"values": [{}]}, "mark": {"type": "text", "text": "/T", "fontSize": 11.5, "align": "left", "baseline": "alphabetic", "dx": 40.0, "color": "#ff3b3b"},
         "encoding": {"x": {"datum": 1, "type": "quantitative"}, "y": {"datum": 0.8, "type": "quantitative", "axis": null}}},
        {"data": {"values": [{}]}, "mark": {"type": "text", "text": "MLS", "fontSize": 8, "align": "left", "baseline": "alphabetic", "dx": 51.0, "dy": 2.5, "color": "#ff3b3b"},
         "encoding": {"x": {"datum": 1, "type": "quantitative"}, "y": {"datum": 0.8, "type": "quantitative", "axis": null}}}
      ]
    }
  ]
}
